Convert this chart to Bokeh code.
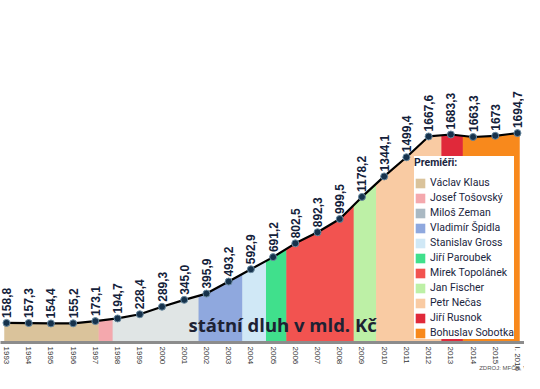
import math
from bokeh.plotting import figure
from bokeh.models import Range1d, FixedTicker, Legend, LegendItem, Label
from bokeh.embed import file_html
from bokeh.resources import INLINE

# ---- data ----
years = ["1993", "1994", "1995", "1996", "1997", "1998", "1999", "2000", "2001", "2002",
         "2003", "2004", "2005", "2006", "2007", "2008", "2009", "2010", "2011", "2012",
         "2013", "2014", "2015", "I. 2016"]
debt = [158.8, 157.3, 154.4, 155.2, 173.1, 194.7, 228.4, 289.3, 345.0, 395.9,
        493.2, 592.9, 691.2, 802.5, 892.3, 999.5, 1178.2, 1344.1, 1499.4, 1667.6,
        1683.3, 1663.3, 1673.0, 1694.7]
debt_labels = ["158,8", "157,3", "154,4", "155,2", "173,1", "194,7", "228,4", "289,3", "345,0", "395,9",
               "493,2", "592,9", "691,2", "802,5", "892,3", "999,5", "1178,2", "1344,1", "1499,4", "1667,6",
               "1683,3", "1663,3", "1673", "1694,7"]
premiers = ["Václav Klaus", "Josef Tošovský", "Miloš Zeman", "Vladimír Špidla", "Stanislav Gross",
            "Jiří Paroubek", "Mirek Topolánek", "Jan Fischer", "Petr Nečas", "Jiří Rusnok",
            "Bohuslav Sobotka"]
# term boundaries on the year-index axis (0 = 1993)
term_bounds = [-0.09, 4.15, 4.78, 8.65, 10.62, 11.68, 12.6, 15.63, 16.64, 19.58, 20.54, 23.09]
area_colors = ["#dac39b", "#f4a8ad", "#e0e5e5", "#8fa8de", "#d0e8f6", "#40e08c",
               "#f25350", "#bdf0a6", "#f9cba3", "#e0293a", "#f8891c"]
legend_colors = ["#dac39b", "#f4a8ad", "#aab9c3", "#8fa8de", "#d0e8f6", "#40e08c",
                 "#f25350", "#bdf0a6", "#f9cba3", "#e0293a", "#f8891c"]
source_text = "ZDROJ: MFČR, VLÁDA ČR"

idx = list(range(len(years)))
ytop = 2768
band_top = max(debt)
x_lo, x_hi = -0.27, 23.316

p = figure(width=524, height=373, output_backend="svg", toolbar_location=None,
           x_range=Range1d(x_lo, x_hi), y_range=Range1d(0, ytop),
           min_border_left=0, min_border_right=0, min_border_top=0, min_border_bottom=30)
p.outline_line_color = None
p.grid.visible = False
p.yaxis.visible = False
p.background_fill_color = "white"
p.border_fill_color = "white"

lefts, rights = term_bounds[:-1], term_bounds[1:]
# legend-colour bands (hidden underneath the chart bands, used only by the legend)
legend_r = p.quad(left=lefts, right=rights, bottom=0, top=band_top,
                  fill_color=legend_colors, line_color=None)
# premier bands as seen in the chart
p.quad(left=lefts, right=rights, bottom=0, top=band_top,
       fill_color=area_colors, line_color=None)
# white mask above the debt curve (spanning the whole frame width)
p.varea(x=[x_lo] + idx + [x_hi],
        y1=[debt[0]] + debt + [debt[-1]], y2=ytop, fill_color="white")

p.line(idx, debt, line_color="black", line_width=2.2)
p.scatter(idx, debt, size=7, fill_color="#16324c", line_color="#6a8aa0", line_width=1)
p.text(x=idx, y=debt, text=debt_labels, angle=math.pi / 2, text_align="left",
       text_baseline="middle", y_offset=-5, text_font_size="12px",
       text_font_style="bold", text_color="#13213a",
       text_font={"value": "Liberation Sans"})

# x axis
ax = p.xaxis[0]
ax.ticker = FixedTicker(ticks=idx)
ax.major_label_overrides = {i: y for i, y in enumerate(years)}
ax.major_label_orientation = "vertical"
ax.major_tick_line_color = None
ax.major_tick_out = 0
ax.major_tick_in = 0
ax.minor_tick_line_color = None
ax.axis_line_color = "#8c8c8c"
ax.axis_line_width = 3
ax.major_label_standoff = 4
ax.major_label_text_font = "Liberation Sans"
ax.major_label_text_font_size = "8px"
ax.major_label_text_color = "#333333"
# source note, set into the axis panel below the short year labels
ax.axis_label = source_text + "\u00a0" * 10
ax.axis_label_text_font = "Liberation Sans"
ax.axis_label_text_font_size = "6px"
ax.axis_label_text_font_style = "normal"
ax.axis_label_text_color = "#555555"
ax.axis_label_standoff = -9
try:
    ax.axis_label_align = "end"
except Exception:
    pass

items = [LegendItem(label=name, renderers=[legend_r], index=i) for i, name in enumerate(premiers)]
legend = Legend(items=items, location=(414, 3), title="Premiéři:",
                background_fill_color="white", background_fill_alpha=1.0,
                border_line_color=None, padding=5, margin=0, spacing=2,
                glyph_width=12, glyph_height=12, label_height=12, label_standoff=4,
                label_text_font="Roboto", label_text_font_size="10.5px",
                label_text_color="#1a2540",
                title_text_font="Roboto", title_text_font_style="bold",
                title_text_font_size="10.5px", title_text_color="#1a2540",
                title_standoff=7)
p.add_layout(legend)

p.add_layout(Label(x=188, y=6, x_units="screen", y_units="screen",
                   text="státní dluh v mld. Kč", text_font="Open Sans",
                   text_font_style="bold", text_font_size="18.5px", text_color="#1e2233"))

open("out.html", "w").write(file_html(p, INLINE))
